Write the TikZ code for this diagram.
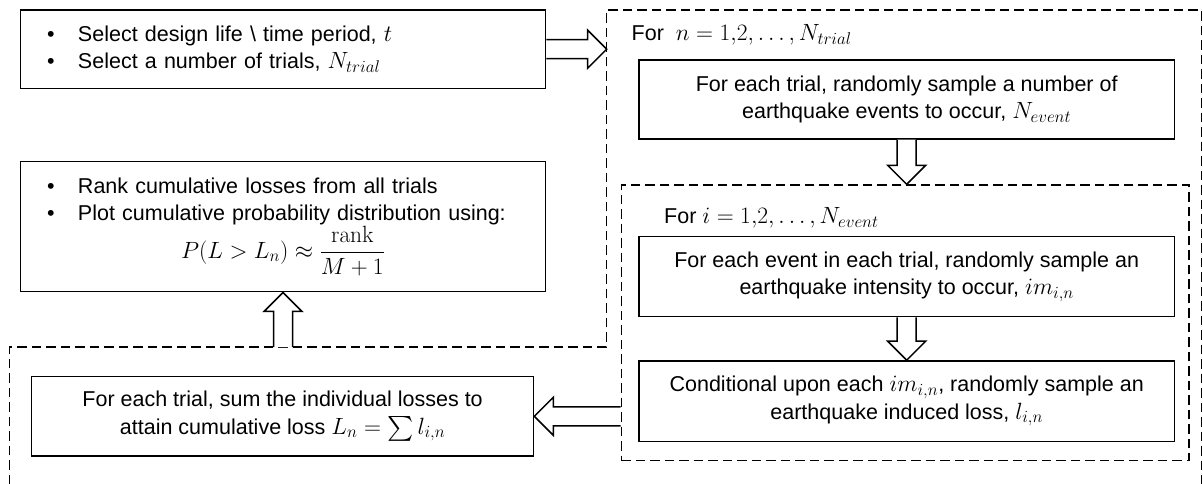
\RequirePackage{fix-cm}
\documentclass[tikz,border=0pt]{standalone}
\usepackage{amsmath}
\usepackage[no-math]{fontspec}
\setmainfont{Liberation Sans}
\usetikzlibrary{calc}
\DeclareMathSizes{21.5}{23.5}{17}{13}
\newcommand\bodyfont{\fontsize{21.5}{27.5}\selectfont}
\newcommand\bul{\makebox[31pt][l]{•}}
\newcommand\arrShaft{9.5pt}
\newcommand\arrHead{19pt}
\newcommand\arrLen{19pt}
\newcommand{\blockarrow}[2]{%
  \path (#1) coordinate (ba-s) (#2) coordinate (ba-t);
  \path ($(ba-t)!\arrLen!(ba-s)$) coordinate (ba-h);
  \filldraw[barrow] ($(ba-s)!\arrShaft!90:(ba-t)$) -- ($(ba-h)!\arrShaft!90:(ba-t)$)
    -- ($(ba-h)!\arrHead!90:(ba-t)$) -- (ba-t) -- ($(ba-h)!\arrHead!-90:(ba-t)$)
    -- ($(ba-h)!\arrShaft!-90:(ba-t)$) -- ($(ba-s)!\arrShaft!-90:(ba-t)$);}
\tikzset{
  box/.style={draw, line width=1.5pt, inner sep=0pt, align=center, font=\bodyfont},
  loopline/.style={line width=1.4pt, dash pattern=on 9.5pt off 5pt},
  barrow/.style={draw=black, fill=white, line width=1.5pt, line join=miter},
  lbl/.style={anchor=west, inner sep=0pt, font=\bodyfont},
}
\begin{document}
\begin{tikzpicture}[x=1pt,y=-1pt]
\useasboundingbox (0,0) rectangle (1203,484);
% outer loop boundary
\coordinate (oBL) at (9.3,484);
\coordinate (oBend) at (9.3,347);
\coordinate (oIn) at (606.7,347);
\coordinate (oTL) at (606.7,10);
\coordinate (oTR) at (1201.7,10);
\coordinate (oBR) at (1201.7,484);
\draw[loopline] (oBL) -- (oBend) -- (oIn) -- (oTL) -- (oTR) -- (oBR);
% inner loop boundary
\node[loopline, draw, minimum width=567.7pt, minimum height=275.7pt, inner sep=0pt] (inner) at (905.2,322.9) {};
% boxes
\node[box, minimum width=525pt, minimum height=78.3pt, text width=472pt, align=left] (A) at (283,49.2)
  {\bul Select design life \textbackslash{} time period, $t$\par\bul Select a number of trials, $N_{trial}$};
\node[box, minimum width=525pt, minimum height=130pt, text width=472pt, align=left] (B) at (283,226.7)
  {\bul Rank cumulative losses from all trials\par\bul Plot cumulative probability distribution using:\par
   {\centering $P(L>L_n)\approx\dfrac{\mathrm{rank}}{M+1}$\par}};
\node[box, minimum width=502pt, minimum height=79.3pt] (C) at (282.6,416.3)
  {For each trial, sum the individual losses to\\attain cumulative loss $L_n=\sum l_{i,n}$};
\node[box, minimum width=535.4pt, minimum height=79pt] (D) at (906.7,99.5)
  {For each trial, randomly sample a number of\\earthquake events to occur, $N_{event}$};
\node[box, minimum width=535.4pt, minimum height=80pt] (E) at (906.7,276.7)
  {For each event in each trial, randomly sample an\\earthquake intensity to occur, $im_{i,n}$};
\node[box, minimum width=535.4pt, minimum height=80.7pt] (F) at (906.7,401.3)
  {Conditional upon each $im_{i,n}$, randomly sample an\\earthquake induced loss, $l_{i,n}$};
% loop labels
\node[lbl] (ln) at (631.5,35) {For\ \ $n=1{,}2,\ldots,N_{trial}$};
\node[lbl] (li) at (664,218) {For $i=1{,}2,\ldots,N_{event}$};
% block arrows
\blockarrow{A.east}{A.east -| oTL}
\blockarrow{D.south}{D.south |- inner.north}
\blockarrow{E.south}{F.north}
\blockarrow{inner.west |- C.east}{C.east}
\blockarrow{B.south |- oBend}{B.south}
\end{tikzpicture}
\end{document}
